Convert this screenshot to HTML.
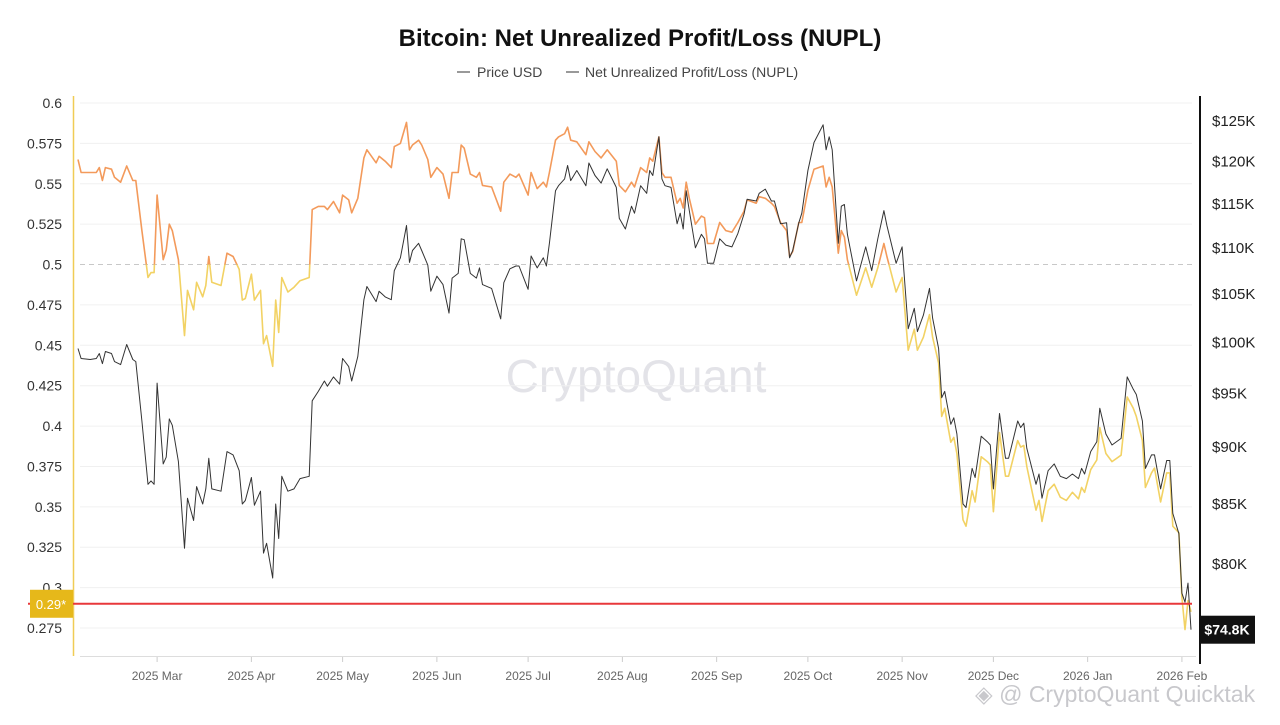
<!DOCTYPE html>
<html><head><meta charset="utf-8">
<style>
html,body{margin:0;padding:0;background:#fff;}
body{width:1280px;height:720px;overflow:hidden;font-family:"Liberation Sans",sans-serif;}
svg text{font-family:"Liberation Sans",sans-serif;}
</style></head>
<body>
<svg id="chart" width="1280" height="720" xmlns="http://www.w3.org/2000/svg">
  <text x="640" y="46" text-anchor="middle" font-size="24" font-weight="bold" fill="#111">Bitcoin: Net Unrealized Profit/Loss (NUPL)</text>
  <g font-size="14" fill="#444">
    <g><line x1="457" y1="72" x2="470" y2="72" stroke="#333" stroke-width="1"/><text x="477" y="77">Price USD</text></g>
    <g><line x1="566" y1="72" x2="579" y2="72" stroke="#333" stroke-width="1"/><text x="585" y="77">Net Unrealized Profit/Loss (NUPL)</text></g>
  </g>
  <text x="636" y="392" text-anchor="middle" font-size="46" fill="#e3e3e8">CryptoQuant</text>
  <g id="grid"></g>
  <g id="axes"></g>
  <g id="series"></g>
  <g id="overlay"></g>
  <text x="975" y="702" font-size="23" fill="#c8c8cc">◈ @ CryptoQuant Quicktak</text>
</svg>
<script>
const monthLabels=["2025 Mar","2025 Apr","2025 May","2025 Jun","2025 Jul","2025 Aug","2025 Sep","2025 Oct","2025 Nov","2025 Dec","2026 Jan","2026 Feb"];
const monthDays=[27,58,88,119,149,180,211,241,272,302,333,364];
const nuplTicks=[0.275,0.3,0.325,0.35,0.375,0.4,0.425,0.45,0.475,0.5,0.525,0.55,0.575,0.6];
const nuplTickLabels=["0.275","0.3","0.325","0.35","0.375","0.4","0.425","0.45","0.475","0.5","0.525","0.55","0.575","0.6"];
const priceTicks=[80,85,90,95,100,105,110,115,120,125];
const priceTickLabels=["$80K","$85K","$90K","$95K","$100K","$105K","$110K","$115K","$120K","$125K"];
const days=[1,2,5,7,8,9,10,12,13,15,17,19,20,22,24,25,26,27,29,30,31,32,34,36,37,39,40,42,43,44,45,48,50,52,54,55,56,58,59,61,62,63,65,66,67,68,70,72,74,77,78,80,82,83,85,87,88,90,91,93,95,96,99,100,102,104,105,107,109,110,111,113,114,116,117,119,121,123,124,126,127,128,130,132,133,134,137,140,141,143,145,146,149,150,152,154,155,156,158,159,161,162,163,165,168,169,171,173,175,178,179,181,183,184,186,188,189,190,192,193,194,196,198,199,200,201,202,204,206,207,208,210,212,214,216,218,220,221,224,225,227,229,230,232,234,235,236,238,239,241,243,246,247,248,249,251,252,253,254,257,260,262,264,266,267,270,272,274,276,277,279,281,282,284,285,286,288,289,290,292,293,295,296,298,300,301,302,304,306,307,310,311,312,313,316,317,318,320,322,324,326,328,330,331,332,334,336,337,339,341,344,346,348,349,351,352,354,355,357,359,360,361,363,364,365,366,367];
const priceK=[99.3,98.3,98.2,98.3,98.8,97.8,99.0,98.8,98.0,97.7,99.7,98.2,98.0,92.3,86.6,86.9,86.6,95.9,88.4,89.0,92.5,91.9,88.6,81.2,85.4,83.5,86.4,84.9,86.2,88.9,86.2,86.0,89.5,89.2,87.8,84.9,85.2,87.2,84.8,86.0,80.8,81.6,78.8,84.9,82.0,87.3,86.0,86.2,87.1,87.3,94.2,95.1,96.1,95.6,96.5,95.8,98.3,97.5,96.1,98.5,104.3,105.7,104.1,105.2,104.6,104.3,107.4,108.8,112.4,108.3,109.6,110.4,109.6,108.0,105.2,106.8,105.9,102.9,106.6,107.1,110.9,110.8,107.1,106.6,107.7,105.9,105.5,102.3,106.1,107.6,107.9,107.9,105.4,109.0,107.7,108.8,107.9,110.4,116.4,117.0,117.8,119.4,117.6,118.8,117.0,119.7,118.2,117.3,119.0,116.8,113.2,112.0,114.6,113.8,117.0,116.1,118.8,118.2,122.9,117.8,117.0,116.8,112.6,113.8,112.0,116.4,114.1,109.9,111.4,110.9,108.2,108.2,110.9,110.2,110.0,111.5,113.7,115.4,115.2,116.1,116.6,115.2,115.2,112.6,112.7,108.8,109.6,112.7,113.8,118.8,122.2,124.4,121.3,122.9,121.3,110.4,114.6,114.8,111.4,106.3,110.0,107.4,110.9,114.1,112.4,108.2,110.0,101.3,103.4,101.0,102.7,105.5,102.4,99.3,94.5,95.1,92.0,92.6,91.1,84.9,84.6,88.0,87.2,90.9,90.4,90.1,86.2,93.0,88.9,88.9,92.3,91.7,92.1,89.8,86.6,87.5,85.4,87.8,88.4,87.3,87.1,87.5,87.1,88.0,87.5,89.5,90.4,93.5,91.1,90.1,90.7,96.5,95.3,94.8,92.3,88.0,89.2,89.2,86.2,88.7,88.7,84.1,82.4,77.6,76.9,78.4,74.8];
const nupl=[0.565,0.557,0.557,0.557,0.560,0.552,0.560,0.559,0.554,0.551,0.561,0.552,0.552,0.521,0.492,0.495,0.495,0.543,0.503,0.509,0.525,0.521,0.503,0.456,0.484,0.472,0.489,0.480,0.487,0.505,0.489,0.487,0.507,0.505,0.497,0.478,0.479,0.494,0.478,0.484,0.451,0.456,0.437,0.478,0.458,0.492,0.483,0.486,0.490,0.492,0.534,0.536,0.536,0.534,0.539,0.532,0.543,0.540,0.532,0.541,0.566,0.571,0.563,0.567,0.564,0.560,0.573,0.575,0.588,0.571,0.574,0.577,0.574,0.565,0.554,0.560,0.556,0.541,0.557,0.557,0.574,0.572,0.556,0.554,0.557,0.549,0.548,0.533,0.551,0.556,0.554,0.556,0.543,0.557,0.547,0.551,0.548,0.557,0.577,0.579,0.581,0.585,0.577,0.576,0.568,0.576,0.570,0.566,0.571,0.564,0.549,0.545,0.551,0.548,0.560,0.557,0.566,0.564,0.579,0.557,0.554,0.554,0.538,0.541,0.535,0.551,0.541,0.525,0.530,0.529,0.513,0.513,0.526,0.521,0.520,0.526,0.533,0.540,0.538,0.542,0.541,0.538,0.536,0.526,0.521,0.505,0.508,0.526,0.526,0.546,0.559,0.561,0.548,0.554,0.548,0.507,0.521,0.517,0.503,0.481,0.498,0.486,0.498,0.513,0.505,0.483,0.492,0.447,0.460,0.447,0.455,0.469,0.455,0.439,0.406,0.411,0.390,0.393,0.383,0.342,0.338,0.360,0.353,0.381,0.378,0.376,0.347,0.396,0.369,0.369,0.391,0.387,0.388,0.375,0.348,0.354,0.341,0.360,0.364,0.356,0.354,0.359,0.355,0.362,0.359,0.373,0.379,0.399,0.383,0.378,0.382,0.418,0.411,0.406,0.391,0.362,0.371,0.374,0.353,0.371,0.371,0.338,0.334,0.294,0.274,0.292,0.285];
const markerNupl=0.29;
const markerNuplLabel="0.29*";
const lastPriceLabel="$74.8K";

const NS="http://www.w3.org/2000/svg";
const X0=75,X1=1188,D0=0,D1=366;
const xS=d=>X0+(d-D0)*(X1-X0)/(D1-D0);
const yN=v=>103+(0.6-v)*(628-103)/(0.6-0.275);
const yP=p=>120+(Math.log(125)-Math.log(p))*(563-120)/(Math.log(125)-Math.log(80));
function mk(tag,attrs,parent,txt){const e=document.createElementNS(NS,tag);for(const k in attrs)e.setAttribute(k,attrs[k]);if(txt!==undefined)e.textContent=txt;parent.appendChild(e);return e;}
const grid=document.getElementById('grid'),axes=document.getElementById('axes'),series=document.getElementById('series'),overlay=document.getElementById('overlay');

nuplTicks.forEach((v,i)=>{
  const y=yN(v);
  if(v!==0.5){const g=mk('line',{x1:80,x2:1192,y1:y,y2:y,stroke:'#f0f0f0','stroke-width':1},grid);
  
  }
  const t=mk('text',{x:62,y:y+5,'text-anchor':'end','font-size':14,fill:'#333'},axes,nuplTickLabels[i]);
  
  
});
const ref=mk('line',{x1:80,x2:1192,y1:yN(0.5),y2:yN(0.5),stroke:'#c8c8c8','stroke-width':1,'stroke-dasharray':'5,4'},grid);


priceTicks.forEach((p,i)=>{
  const t=mk('text',{x:1212,y:yP(p)+6,'font-size':15,fill:'#222'},axes,priceTickLabels[i]);
  
  
});
monthDays.forEach((d,i)=>{
  const x=xS(d);
  const tk=mk('line',{x1:x,x2:x,y1:657,y2:662,stroke:'#ccc'},axes);
  
  
  const t=mk('text',{x:x,y:680,'text-anchor':'middle','font-size':12,fill:'#666'},axes,monthLabels[i]);
  
  
});
const xl=mk('line',{x1:80,x2:1196,y1:656.5,y2:656.5,stroke:'#ddd'},axes);


const la=mk('line',{x1:73.5,x2:73.5,y1:96,y2:656,stroke:'#F0CC55','stroke-width':1.5},axes);


const ra=mk('line',{x1:1200,x2:1200,y1:96,y2:664,stroke:'#111','stroke-width':2},axes);



// clips for NUPL coloring
const defs=mk('defs',{},series);
const ca=mk('clipPath',{id:'above'},defs);mk('rect',{x:0,y:0,width:1280,height:yN(0.5)},ca);
const cb=mk('clipPath',{id:'below'},defs);mk('rect',{x:0,y:yN(0.5),width:1280,height:720},cb);
const nd=nupl.map((v,i)=>(i?'L':'M')+xS(days[i]).toFixed(1)+','+yN(v).toFixed(1)).join('');
const n1=mk('path',{d:nd,fill:'none',stroke:'#F39A5B','stroke-width':1.6,'clip-path':'url(#above)','stroke-linejoin':'round'},series);


const n2=mk('path',{d:nd,fill:'none',stroke:'#F2D264','stroke-width':1.6,'clip-path':'url(#below)','stroke-linejoin':'round'},series);


const pd=priceK.map((p,i)=>(i?'L':'M')+xS(days[i]).toFixed(1)+','+yP(p).toFixed(1)).join('');
const pl=mk('path',{d:pd,fill:'none',stroke:'#333','stroke-width':1,'stroke-linejoin':'round'},series);



// marker line and badges
const my=yN(markerNupl);
const rl=mk('line',{x1:28,x2:1192,y1:my,y2:my,stroke:'#E8383B','stroke-width':2},overlay);


const bg=mk('rect',{x:30,y:my-14,width:43,height:28,fill:'#E6B81A'},overlay);


mk('text',{x:51,y:my+5,'text-anchor':'middle','font-size':13,fill:'#fff'},overlay,markerNuplLabel);
const lp=yP(priceK[priceK.length-1]);
const pb=mk('rect',{x:1200,y:lp-14,width:55,height:28,fill:'#111'},overlay);


mk('text',{x:1227,y:lp+5,'text-anchor':'middle','font-size':14,'font-weight':'bold',fill:'#fff'},overlay,lastPriceLabel);
</script>
</body></html>
